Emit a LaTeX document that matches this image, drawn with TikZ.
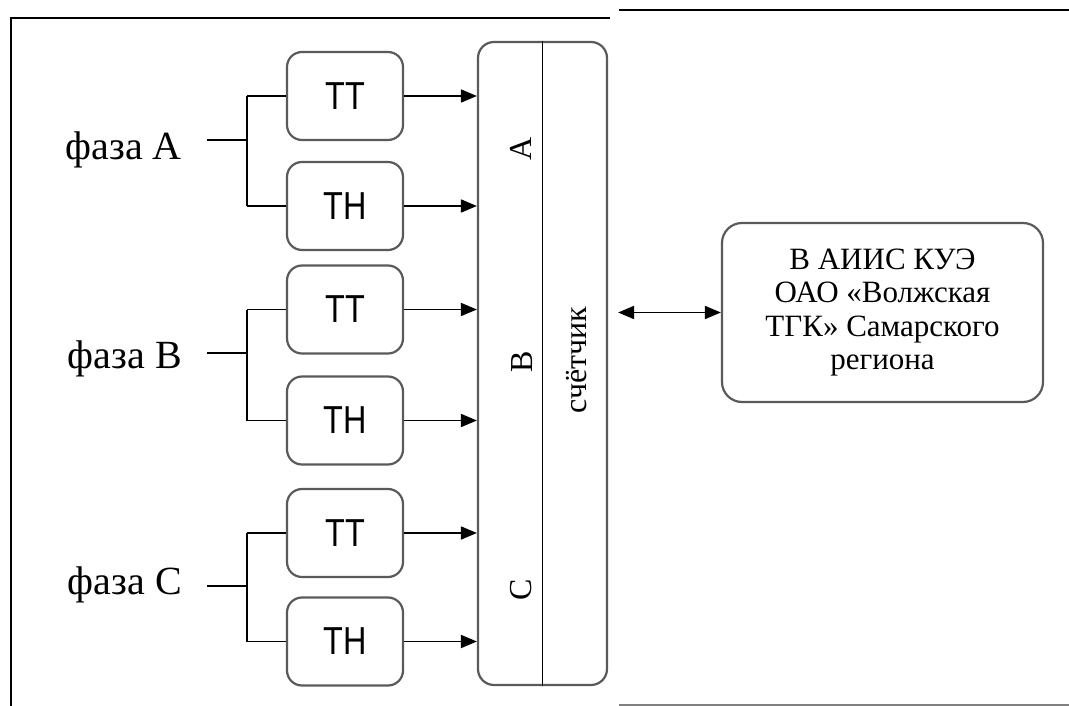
\documentclass[tikz,border=0pt]{standalone}
\usepackage{fontspec}
\setmainfont{Liberation Serif}
\newfontfamily\arialf{Liberation Sans}
\usetikzlibrary{arrows.meta}
\definecolor{boxgray}{HTML}{5A5A5A}
\newcommand{\tlabel}[1]{\scalebox{1.08}[1.3]{#1}}
\tikzset{
  x=1pt,y=-1pt,
  tbox/.style={draw=boxgray,line width=2.2pt,rounded corners=15pt,minimum width=116pt,minimum height=88pt,inner sep=0pt,font=\arialf\fontsize{30}{30}\selectfont},
  phase/.style={anchor=base east,inner sep=0pt,font=\fontsize{40}{40}\selectfont},
  conn/.style={line width=1.8pt,black},
  arr/.style={conn,-{Triangle[length=16pt,width=13pt]}},
  frame/.style={line width=2pt,black},
  letter/.style={rotate=90,inner sep=0pt,font=\fontsize{32}{32}\selectfont}
}
\begin{document}
\begin{tikzpicture}
\useasboundingbox (0,0) rectangle (1069,706);
% frame
\coordinate (f1) at (11,718);
\coordinate (f2) at (11,18);
\coordinate (f3) at (610,18);
\coordinate (f4) at (619,10);
\coordinate (f5) at (1075,10);
\coordinate (f6) at (619,705);
\coordinate (f7) at (1075,705);
\draw[frame] (f1) -- (f2) -- (f3);
\draw[frame] (f4) -- (f5);
\draw[line width=2pt,gray] (f6) -- (f7);

% meter
\node[draw=boxgray,line width=2.2pt,rounded corners=16pt,minimum width=129pt,minimum height=643pt,inner sep=0pt] (meter) at (542.5,363.5) {};
\draw[line width=1.8pt] (meter.north) -- (meter.south);
\node[letter] (la) at (521,149) {А};
\node[letter] (lb) at (522,362) {В};
\node[letter] (lc) at (521,590) {С};
\node[letter,anchor=base] (sch) at (586,360) {счётчик};

% AIIS box
\node[draw=boxgray,line width=2.2pt,rounded corners=20pt,minimum width=321pt,minimum height=179pt,align=center,font=\fontsize{31}{33.5}\selectfont] (aiis) at (882.5,312.5) {В АИИС КУЭ\\ОАО «Волжская\\ТГК» Самарского\\региона};
\coordinate (mout) at (meter.east |- aiis.west);
\draw[conn,{Triangle[length=16pt,width=13pt]}-{Triangle[length=16pt,width=13pt]},shorten <=10pt] (mout) -- (aiis.west);

% phase groups
\foreach \g/\nm/\ty/\hy/\ly/\by in {A/А/96/206/140/160, B/В/309.5/420.5/353/368, C/С/533/641.5/586/594}{
  \node[tbox] (tt\g) at (345,\ty) {\tlabel{ТТ}};
  \node[tbox] (tn\g) at (345,\hy) {\tlabel{ТН}};
  \node[phase] (ph\g) at (182,\by) {фаза \nm};
  \coordinate (s\g) at (207,\ly);
  \coordinate (j\g) at (247,\ly);
  \draw[conn] (s\g) -- (j\g);
  \draw[conn] (j\g |- tt\g.west) -- (tt\g.west);
  \draw[conn] (j\g |- tn\g.west) -- (tn\g.west);
  \draw[conn] (j\g |- tt\g.west) -- (j\g |- tn\g.west);
  \draw[arr] (tt\g.east) -- (meter.west |- tt\g.east);
  \draw[arr] (tn\g.east) -- (meter.west |- tn\g.east);
}
\end{tikzpicture}
\end{document}
